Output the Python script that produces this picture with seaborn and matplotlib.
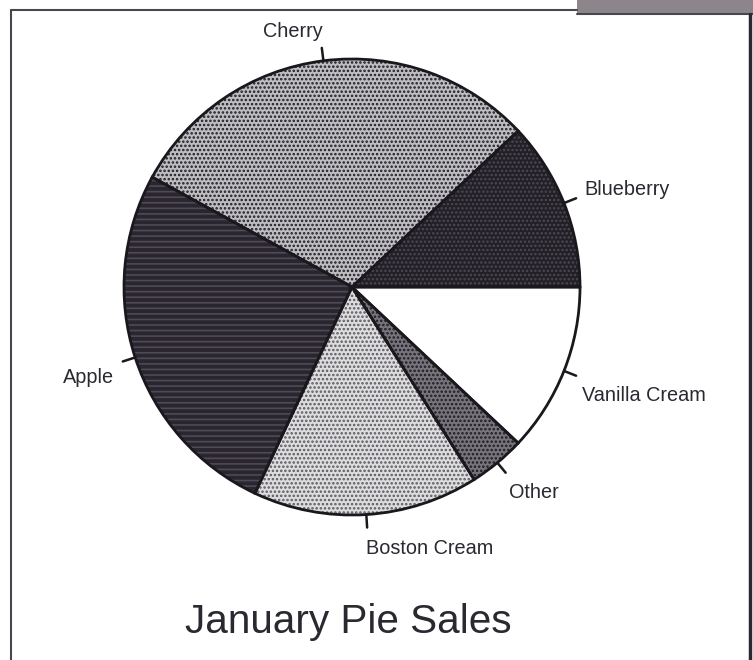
import matplotlib
matplotlib.use("Agg")
import matplotlib.pyplot as plt
import seaborn as sns
import numpy as np
from matplotlib.lines import Line2D
from matplotlib.patches import Rectangle

# ---- data ----
flavors = ["Blueberry", "Cherry", "Apple", "Boston Cream", "Other", "Vanilla Cream"]
sales = [12, 30, 26, 16, 4, 12]
title = "January Pie Sales"

# ---- style ----
sns.set_theme(style="white")
plt.rcParams["font.family"] = ["Liberation Sans", "DejaVu Sans"]
plt.rcParams["hatch.linewidth"] = 1.2

face = ["#221f26", "#bebdc1", "#2a2630", "#dddcde", "#77757b", "#ffffff"]
hatch_col = ["#4d4953", "#1e1c22", "#4f4a56", "#5a585d", "#1e1c22", "#ffffff"]
hatches = ["....", "....", "---", "....", "....", ""]

W, H = 753, 660
fig = plt.figure(figsize=(W / 100, H / 100), dpi=100)
ax = fig.add_axes([0, 0, 1, 1])
ax.set_xlim(0, W)
ax.set_ylim(0, H)
ax.set_aspect("equal")
ax.axis("off")

cx, cy, R = 352, H - 287, 228

# base fill
wedges, _ = ax.pie(sales, startangle=0, counterclock=True, center=(cx, cy), radius=R,
                   colors=face, wedgeprops=dict(linewidth=0), frame=True)
# hatch overlay
hw, _ = ax.pie(sales, startangle=0, counterclock=True, center=(cx, cy), radius=R,
               colors=["none"] * len(sales), wedgeprops=dict(linewidth=0), frame=True)
for w, hc, h in zip(hw, hatch_col, hatches):
    w.set_facecolor("none")
    w.set_edgecolor(hc)
    w.set_linewidth(0)
    w.set_hatch(h)
# outlines
ow, _ = ax.pie(sales, startangle=0, counterclock=True, center=(cx, cy), radius=R,
               colors=["none"] * len(sales),
               wedgeprops=dict(linewidth=2.0, edgecolor="#1a181c", facecolor="none"), frame=True)
ax.set_xlim(0, W)
ax.set_ylim(0, H)
ax.axis("off")

# ticks and labels
offsets = {
    "Blueberry": (8, -9, "left"),
    "Cherry": (-29, -16, "center"),
    "Apple": (-9, 16, "right"),
    "Boston Cream": (-1, 21, "left"),
    "Other": (3, 20, "left"),
    "Vanilla Cream": (6, 20, "left"),
}
for w, name in zip(wedges, flavors):
    mid = np.deg2rad((w.theta1 + w.theta2) / 2)
    x0, y0 = cx + R * np.cos(mid), cy + R * np.sin(mid)
    x1, y1 = cx + (R + 13) * np.cos(mid), cy + (R + 13) * np.sin(mid)
    ax.add_line(Line2D([x0, x1], [y0, y1], color="#1a181c", lw=1.8))
    dx, dy, ha = offsets[name]
    ax.text(x1 + dx, y1 - dy, name, ha=ha, va="center", fontsize=14.3, color="#2a2830")

ax.text(348, H - 622, title, ha="center", va="center", fontsize=29.2, color="#2a2830")

# scanned frame
fig.patches.append(Rectangle((577 / W, 1 - 13 / H), (W - 577) / W, 13 / H,
                             transform=fig.transFigure, facecolor="#8c868b", edgecolor="none"))
fig.lines.append(Line2D([11 / W, 11 / W], [0, 1 - 10 / H], transform=fig.transFigure,
                        color="#4a4650", lw=1.5))
fig.lines.append(Line2D([11 / W, 577 / W], [1 - 10 / H, 1 - 10 / H], transform=fig.transFigure,
                        color="#4a4650", lw=1.5))
fig.lines.append(Line2D([577 / W, 1], [1 - 14 / H, 1 - 14 / H], transform=fig.transFigure,
                        color="#4a4650", lw=1.5))
fig.lines.append(Line2D([750 / W, 750 / W], [0, 1 - 14 / H], transform=fig.transFigure,
                        color="#2a2830", lw=2.5))

fig.savefig("out.png", dpi=100)
